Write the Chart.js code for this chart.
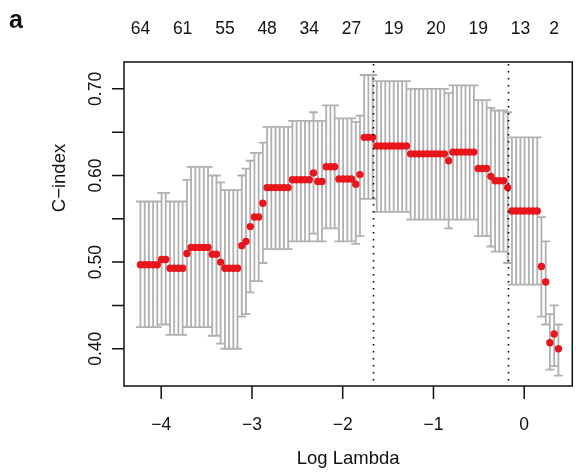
<!DOCTYPE html>
<html>
<head>
<meta charset="utf-8">
<script src="https://cdn.jsdelivr.net/npm/chart.js@4.4.1/dist/chart.umd.min.js"></script>
<style>
  html, body { margin: 0; padding: 0; background: #fff; }
  #chart { display: block; }
</style>
</head>
<body>
<canvas id="chart" width="576" height="473" style="width:576px;height:473px"></canvas>
<script>
// log(lambda) grid
const logLambda = [
  -4.229, -4.182, -4.136, -4.089, -4.043, -3.996, -3.950, -3.903, -3.857, -3.810,
  -3.764, -3.717, -3.671, -3.624, -3.578, -3.531, -3.484, -3.438, -3.391, -3.345,
  -3.298, -3.252, -3.205, -3.159, -3.112, -3.066, -3.019, -2.973, -2.926, -2.880,
  -2.833, -2.787, -2.740, -2.694, -2.647, -2.601, -2.554, -2.508, -2.461, -2.415,
  -2.368, -2.322, -2.275, -2.228, -2.182, -2.135, -2.089, -2.042, -1.996, -1.949,
  -1.903, -1.856, -1.810, -1.763, -1.717, -1.670, -1.624, -1.577, -1.531, -1.484,
  -1.438, -1.391, -1.345, -1.298, -1.252, -1.205, -1.159, -1.112, -1.066, -1.019,
  -0.973, -0.926, -0.879, -0.833, -0.786, -0.740, -0.693, -0.647, -0.600, -0.554,
  -0.507, -0.461, -0.414, -0.368, -0.321, -0.275, -0.228, -0.182, -0.135, -0.089,
  -0.042, 0.004, 0.051, 0.097, 0.144, 0.190, 0.237, 0.283, 0.330, 0.377
]

// mean C-index
const cvm = [
  0.497, 0.497, 0.497, 0.497, 0.497, 0.503, 0.503, 0.493, 0.493, 0.493,
  0.493, 0.510, 0.517, 0.517, 0.517, 0.517, 0.517, 0.509, 0.509, 0.500,
  0.493, 0.493, 0.493, 0.493, 0.519, 0.524, 0.541, 0.552, 0.552, 0.568,
  0.586, 0.586, 0.586, 0.586, 0.586, 0.586, 0.595, 0.595, 0.595, 0.595,
  0.595, 0.603, 0.593, 0.593, 0.610, 0.610, 0.610, 0.596, 0.596, 0.596,
  0.596, 0.590, 0.601, 0.644, 0.644, 0.644, 0.634, 0.634, 0.634, 0.634,
  0.634, 0.634, 0.634, 0.634, 0.625, 0.625, 0.625, 0.625, 0.625, 0.625,
  0.625, 0.625, 0.625, 0.617, 0.627, 0.627, 0.627, 0.627, 0.627, 0.627,
  0.608, 0.608, 0.608, 0.599, 0.594, 0.594, 0.594, 0.586, 0.559, 0.559,
  0.559, 0.559, 0.559, 0.559, 0.559, 0.495, 0.477, 0.407, 0.417, 0.400
]

// upper end of error bar
const cvup = [
  0.570, 0.570, 0.570, 0.570, 0.570, 0.580, 0.580, 0.570, 0.570, 0.570,
  0.570, 0.595, 0.610, 0.610, 0.610, 0.610, 0.610, 0.600, 0.600, 0.592,
  0.583, 0.583, 0.583, 0.583, 0.600, 0.608, 0.617, 0.626, 0.626, 0.638,
  0.656, 0.656, 0.656, 0.656, 0.656, 0.656, 0.663, 0.663, 0.663, 0.663,
  0.663, 0.673, 0.663, 0.663, 0.681, 0.681, 0.681, 0.666, 0.666, 0.666,
  0.666, 0.662, 0.669, 0.716, 0.716, 0.716, 0.709, 0.709, 0.709, 0.709,
  0.709, 0.709, 0.709, 0.709, 0.700, 0.700, 0.700, 0.700, 0.700, 0.700,
  0.700, 0.700, 0.700, 0.695, 0.704, 0.704, 0.704, 0.704, 0.704, 0.704,
  0.687, 0.687, 0.687, 0.678, 0.675, 0.675, 0.675, 0.673, 0.644, 0.644,
  0.644, 0.644, 0.644, 0.644, 0.644, 0.552, 0.524, 0.440, 0.450, 0.428
]

// lower end of error bar
const cvlo = [
  0.425, 0.425, 0.425, 0.425, 0.425, 0.428, 0.428, 0.416, 0.416, 0.416,
  0.416, 0.425, 0.425, 0.425, 0.425, 0.425, 0.425, 0.415, 0.415, 0.406,
  0.400, 0.400, 0.400, 0.400, 0.437, 0.440, 0.465, 0.478, 0.478, 0.499,
  0.515, 0.515, 0.515, 0.515, 0.515, 0.515, 0.524, 0.524, 0.524, 0.524,
  0.524, 0.533, 0.524, 0.524, 0.539, 0.539, 0.539, 0.524, 0.524, 0.524,
  0.524, 0.521, 0.530, 0.573, 0.573, 0.573, 0.558, 0.558, 0.558, 0.558,
  0.558, 0.558, 0.558, 0.558, 0.549, 0.549, 0.549, 0.549, 0.549, 0.549,
  0.549, 0.549, 0.549, 0.539, 0.549, 0.549, 0.549, 0.549, 0.549, 0.549,
  0.530, 0.530, 0.530, 0.518, 0.512, 0.512, 0.512, 0.499, 0.474, 0.474,
  0.474, 0.474, 0.474, 0.474, 0.474, 0.437, 0.428, 0.376, 0.380, 0.369
]

// number of non-zero coefficients shown on the top axis
const nzLabels = ['64', '61', '55', '48', '34', '27', '19', '20', '19', '13', '2']
const nzAt = [-4.229, -3.764, -3.298, -2.833, -2.368, -1.903, -1.438, -0.973, -0.507, -0.042, 0.330]

const xTicks = [-4, -3, -2, -1, 0]
const yTicks = [0.40, 0.45, 0.50, 0.55, 0.60, 0.65, 0.70]
const yTickLabels = ['0.40', '', '0.50', '', '0.60', '', '0.70']

// lambda.min and lambda.1se
const vLines = [-1.670, -0.182]

const FONT = '"Liberation Sans", Arial, sans-serif'
const barHalf = 0.049

const errorBars = {
  id: 'errorBars',
  beforeDatasetsDraw(chart) {
    const { ctx, scales: { x, y } } = chart
    ctx.save()
    ctx.strokeStyle = '#b0b0b0'
    ctx.lineWidth = 1.8
    ctx.beginPath()
    logLambda.forEach((lx, i) => {
      const px = x.getPixelForValue(lx)
      const pl = x.getPixelForValue(lx - barHalf)
      const pr = x.getPixelForValue(lx + barHalf)
      const pu = y.getPixelForValue(cvup[i])
      const pd = y.getPixelForValue(cvlo[i])
      ctx.moveTo(px, pu); ctx.lineTo(px, pd)
      ctx.moveTo(pl, pu); ctx.lineTo(pr, pu)
      ctx.moveTo(pl, pd); ctx.lineTo(pr, pd)
    })
    ctx.stroke()
    ctx.restore()
  },
  afterDatasetsDraw(chart) {
    const { ctx, chartArea: a, scales: { x } } = chart
    ctx.save()
    ctx.strokeStyle = '#000'
    ctx.lineWidth = 1.6
    ctx.setLineDash([1.6, 5.4])
    vLines.forEach(v => {
      const px = Math.round(x.getPixelForValue(v)) + 0.5
      ctx.beginPath()
      ctx.moveTo(px, a.top + 2)
      ctx.lineTo(px, a.bottom)
      ctx.stroke()
    })
    ctx.restore()
  }
}

const rAxes = {
  id: 'rAxes',
  afterDraw(chart) {
    const { ctx, chartArea: a, scales: { x, y } } = chart
    ctx.save()
    ctx.strokeStyle = '#111'
    ctx.fillStyle = '#111'
    ctx.lineWidth = 1.5
    ctx.strokeRect(a.left, a.top, a.right - a.left, a.bottom - a.top)

    // x axis
    ctx.beginPath()
    xTicks.forEach(v => {
      const px = x.getPixelForValue(v)
      ctx.moveTo(px, a.bottom); ctx.lineTo(px, a.bottom + 13)
    })
    ctx.stroke()
    ctx.font = '17.5px ' + FONT
    ctx.textAlign = 'center'
    ctx.textBaseline = 'middle'
    xTicks.forEach(v => {
      const txt = v < 0 ? '\u2212' + Math.abs(v) : String(v)
      ctx.fillText(txt, x.getPixelForValue(v), 425)
    })

    // y axis
    ctx.beginPath()
    yTicks.forEach(v => {
      const py = y.getPixelForValue(v)
      ctx.moveTo(a.left, py); ctx.lineTo(a.left - 12, py)
    })
    ctx.stroke()
    yTicks.forEach((v, i) => {
      if (!yTickLabels[i]) return
      ctx.save()
      ctx.translate(96, y.getPixelForValue(v))
      ctx.rotate(-Math.PI / 2)
      ctx.fillText(yTickLabels[i], 0, 0)
      ctx.restore()
    })

    // top axis: model size
    nzLabels.forEach((t, i) => {
      ctx.fillText(t, x.getPixelForValue(nzAt[i]), 29)
    })

    // axis titles
    ctx.font = '18.5px ' + FONT
    ctx.fillText('Log Lambda', (a.left + a.right) / 2, 459)
    ctx.save()
    ctx.translate(60, 178)
    ctx.rotate(-Math.PI / 2)
    ctx.fillText('C\u2212index', 0, 0)
    ctx.restore()

    // panel tag
    ctx.font = 'bold 25px ' + FONT
    ctx.textAlign = 'left'
    ctx.textBaseline = 'alphabetic'
    ctx.fillText('a', 9, 28)
    ctx.restore()
  }
}

new Chart(document.getElementById('chart').getContext('2d'), {
  type: 'scatter',
  data: {
    datasets: [{
      data: logLambda.map((lx, i) => ({ x: lx, y: cvm[i] })),
      backgroundColor: '#e8161c',
      borderWidth: 0,
      pointRadius: 3.7,
      pointHoverRadius: 3.7
    }]
  },
  options: {
    responsive: false,
    animation: false,
    devicePixelRatio: 1,
    layout: { padding: { left: 124, right: 2, top: 62, bottom: 87 } },
    scales: {
      x: { type: 'linear', display: false, min: -4.41, max: 0.53 },
      y: { type: 'linear', display: false, min: 0.357, max: 0.731 }
    },
    plugins: {
      legend: { display: false },
      tooltip: { enabled: false }
    }
  },
  plugins: [errorBars, rAxes]
})
</script>
</body>
</html>
